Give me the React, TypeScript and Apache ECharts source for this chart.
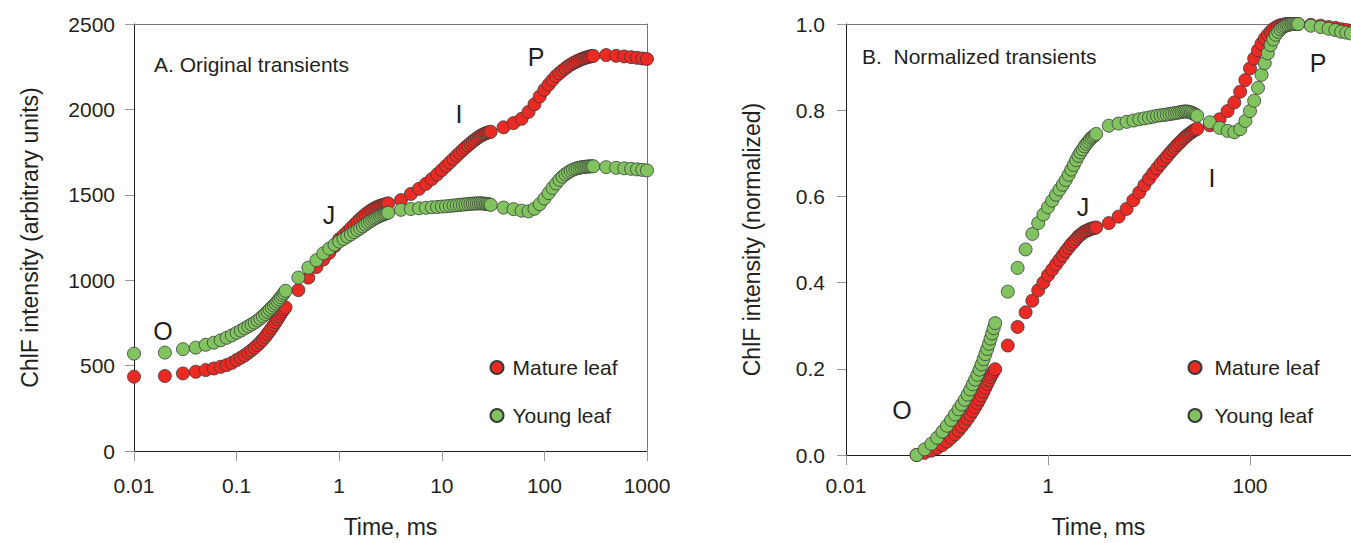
import React, { useEffect, useRef } from "react";
import * as echarts from "echarts";

// Time points (ms) of the recorded transients
const timeMs = [
  0.01, 0.02, 0.03, 0.04, 0.05, 0.06, 0.07, 0.08, 0.09, 0.1,
  0.11, 0.12, 0.13, 0.14, 0.15, 0.16, 0.17, 0.18, 0.19, 0.2,
  0.21, 0.22, 0.23, 0.24, 0.25, 0.26, 0.27, 0.28, 0.29, 0.3,
  0.4, 0.5, 0.6, 0.7, 0.8, 0.9, 1, 1.1, 1.2, 1.3, 1.4, 1.5, 1.6, 1.7,
  1.8, 1.9, 2, 2.1, 2.2, 2.3, 2.4, 2.5, 2.6, 2.7, 2.8, 2.9, 3,
  4, 5, 6, 7, 8, 9, 10, 11, 12, 13, 14, 15, 16, 17, 18, 19, 20,
  21, 22, 23, 24, 25, 26, 27, 28, 29, 30,
  40, 50, 60, 70, 80, 90, 100, 110, 120, 130, 140, 150, 160, 170,
  180, 190, 200, 210, 220, 230, 240, 250, 260, 270, 280, 290, 300,
  400, 500, 600, 700, 800, 900, 1000,
];

// Panel A: original transients (arbitrary units)
const matureRaw = [
  435, 439, 454, 464, 474, 483, 493, 503, 516, 532,
  546, 560, 575, 590, 605, 620, 636, 652, 668, 686,
  703, 720, 737, 754, 771, 788, 804, 818, 830, 841,
  942, 1015, 1077, 1121, 1160, 1199, 1240, 1262, 1283, 1304, 1324, 1342, 1358, 1372,
  1384, 1395, 1405, 1413, 1420, 1426, 1431, 1435, 1438, 1441, 1444, 1447, 1450,
  1469, 1505, 1535, 1564, 1592, 1619, 1645, 1668, 1690, 1710, 1729, 1746, 1762, 1776, 1789, 1801, 1812,
  1822, 1831, 1839, 1846, 1852, 1857, 1861, 1864, 1867, 1869,
  1895, 1920, 1945, 1985, 2030, 2075, 2115, 2145, 2172, 2195, 2212, 2227, 2240, 2252,
  2262, 2270, 2277, 2283, 2289, 2294, 2298, 2302, 2305, 2308, 2310, 2312, 2313,
  2318, 2314, 2310, 2306, 2302, 2298, 2295,
];
const youngRaw = [
  570, 576, 596, 605, 622, 634, 648, 663, 677, 692,
  705, 718, 730, 741, 752, 764, 776, 789, 802, 815,
  828, 840, 852, 864, 876, 888, 900, 913, 925, 938,
  1015, 1073, 1117, 1157, 1185, 1208, 1226, 1241, 1255, 1268, 1281, 1293, 1304, 1315,
  1326, 1336, 1345, 1353, 1360, 1366, 1372, 1377, 1381, 1385, 1389, 1392, 1395,
  1412, 1417, 1421, 1424, 1427, 1429, 1431, 1433, 1435, 1437, 1439, 1441, 1443, 1444, 1446, 1447, 1448,
  1449, 1449, 1450, 1450, 1449, 1448, 1447, 1446, 1444, 1441,
  1425, 1416, 1407, 1403, 1418, 1445, 1478, 1510, 1540, 1566, 1588, 1606, 1620, 1631,
  1640, 1647, 1652, 1656, 1659, 1661, 1663, 1664, 1665, 1666, 1666, 1667, 1667,
  1662, 1658, 1655, 1652, 1649, 1646, 1643,
];

// Panel B: normalized transients, starting at 0.05 ms
const timeNormMs = timeMs.slice(4);
const matureNorm = [
  0.0, 0.005, 0.01, 0.016, 0.023, 0.031, 0.04, 0.048, 0.057, 0.066,
  0.075, 0.084, 0.093, 0.102, 0.111, 0.12, 0.129, 0.138, 0.147, 0.156,
  0.165, 0.173, 0.181, 0.188, 0.194, 0.199,
  0.254, 0.297, 0.331, 0.358, 0.382, 0.4, 0.417, 0.43, 0.442, 0.453, 0.463, 0.473, 0.481, 0.489,
  0.495, 0.501, 0.507, 0.511, 0.515, 0.518, 0.52, 0.522, 0.524, 0.525, 0.526, 0.527, 0.528,
  0.538, 0.553, 0.571, 0.591, 0.609, 0.626, 0.641, 0.654, 0.665, 0.675, 0.684, 0.692, 0.7, 0.707,
  0.713, 0.719, 0.724, 0.729, 0.734, 0.738, 0.742, 0.745, 0.748, 0.751, 0.753, 0.755, 0.757,
  0.765, 0.779, 0.798, 0.818, 0.843, 0.87, 0.897, 0.92, 0.939, 0.954, 0.966, 0.975, 0.982, 0.988,
  0.992, 0.995, 0.997, 0.998, 0.999, 1.0, 1.0, 1.0, 1.0, 1.0, 1.0, 1.0, 1.0,
  0.998, 0.996, 0.993, 0.991, 0.988, 0.986, 0.984,
];
const youngNorm = [
  0.0, 0.013, 0.026, 0.04, 0.054, 0.068, 0.081, 0.094, 0.106, 0.117,
  0.128, 0.14, 0.152, 0.164, 0.175, 0.186, 0.198, 0.21, 0.222, 0.234,
  0.246, 0.258, 0.27, 0.282, 0.294, 0.306,
  0.379, 0.434, 0.477, 0.513, 0.538, 0.558, 0.575, 0.59, 0.604, 0.616, 0.627, 0.638, 0.65, 0.662,
  0.673, 0.684, 0.694, 0.702, 0.709, 0.716, 0.722, 0.727, 0.732, 0.736, 0.739, 0.742, 0.745,
  0.764, 0.769, 0.773, 0.776, 0.779, 0.781, 0.783, 0.785, 0.787, 0.788, 0.789, 0.79, 0.791, 0.792,
  0.793, 0.794, 0.795, 0.796, 0.797, 0.797, 0.797, 0.796, 0.795, 0.793, 0.791, 0.789, 0.787,
  0.772, 0.759, 0.752, 0.749, 0.756, 0.775, 0.798, 0.822, 0.852, 0.882, 0.909, 0.932, 0.951, 0.964,
  0.975, 0.982, 0.988, 0.992, 0.995, 0.997, 0.998, 0.999, 1.0, 1.0, 1.0, 1.0, 1.0,
  0.996, 0.993, 0.989, 0.986, 0.982, 0.98, 0.978,
];

const seriesNames = ["Mature leaf", "Young leaf"];
const panelTitles = ["A. Original transients", "B.  Normalized transients"];
const phaseLabels = ["O", "J", "I", "P"];

const FONT = '"Liberation Sans", Arial, Helvetica, sans-serif';
const INK = "#231f20";
const RED = "#ec2a24";
const GREEN = "#80c35f";
const EDGE = "#3a3a3a";
const FRAME = "#777777";
const TICK = "#999999";

const fmtLog = (v: number) => String(parseFloat(Number(v).toPrecision(6)));

export default function App() {
  const ref = useRef<HTMLDivElement>(null);

  useEffect(() => {
    if (!ref.current) return;
    const chart = echarts.init(ref.current, null, { renderer: "svg" });

    const bottomLogAxis = (grid: number, nameGap: number, margin: number, extra: any = {}) => ({
      type: "log",
      logBase: 10,
      gridIndex: grid,
      min: 0.01,
      max: 1000,
      name: "Time, ms",
      nameLocation: "middle",
      nameGap,
      nameTextStyle: { fontSize: 23, color: INK, fontFamily: FONT },
      axisLine: { show: true, onZero: false, lineStyle: { color: INK, width: 1 } },
      axisTick: { show: true, inside: false, length: 10, lineStyle: { color: TICK, width: 1 } },
      minorTick: { show: false },
      axisLabel: { fontSize: 21, color: INK, fontFamily: FONT, margin, formatter: fmtLog },
      splitLine: { show: false },
      ...extra,
    });
    const frameX = (grid: number) => ({
      type: "log",
      logBase: 10,
      gridIndex: grid,
      position: "top",
      min: 0.01,
      max: 1000,
      axisLine: { show: true, onZero: false, lineStyle: { color: FRAME, width: 1 } },
      axisTick: { show: false },
      axisLabel: { show: false },
      splitLine: { show: false },
    });
    const leftValueAxis = (grid: number, name: string, max: number, interval: number, nameGap: number, margin: number, formatter: any) => ({
      type: "value",
      gridIndex: grid,
      min: 0,
      max,
      interval,
      name,
      nameLocation: "middle",
      nameGap,
      nameRotate: 90,
      nameTextStyle: { fontSize: 23, color: INK, fontFamily: FONT },
      axisLine: { show: true, onZero: false, lineStyle: { color: INK, width: 1 } },
      axisTick: { show: true, inside: false, length: 9, lineStyle: { color: TICK, width: 1 } },
      axisLabel: { fontSize: 21, color: INK, fontFamily: FONT, margin, formatter },
      splitLine: { show: false },
    });

    const pointStyle = (color: string) => ({
      color,
      borderColor: EDGE,
      borderWidth: 0.8,
      opacity: 1,
    });
    const scatter = (name: string, xi: number, yi: number, xs: number[], ys: number[], color: string) => ({
      name,
      type: "scatter",
      xAxisIndex: xi,
      yAxisIndex: yi,
      data: xs.map((t, i) => [t, ys[i]]),
      symbol: "circle",
      symbolSize: 13,
      clip: false,
      itemStyle: pointStyle(color),
      emphasis: { disabled: true },
    });

    const legendBase = (left: number, textPad: number) => ({
      data: seriesNames,
      orient: "vertical",
      left,
      top: 357,
      padding: 0,
      itemWidth: 13,
      itemHeight: 13,
      itemGap: 27,
      icon: "circle",
      selectedMode: false,
      textStyle: { fontSize: 21, color: INK, fontFamily: FONT, padding: [0, 0, 0, textPad] },
    });

    const txt = (text: string, x: number, y: number, size: number, align = "center") => ({
      type: "text",
      x,
      y,
      z: 10,
      style: { text, fontSize: size, fontFamily: FONT, fill: INK, align, verticalAlign: "middle" },
    });

    const option: any = {
      animation: false,
      backgroundColor: "#ffffff",
      textStyle: { fontFamily: FONT },
      grid: [
        { left: 134, top: 24, width: 513, height: 431, containLabel: false },
        { left: 846, top: 24, width: 505, height: 435, containLabel: false },
      ],
      xAxis: [
        bottomLogAxis(0, 64, 24),
        frameX(0),
        bottomLogAxis(1, 60, 20, { interval: 2, axisLabel: { fontSize: 21, color: INK, fontFamily: FONT, margin: 20, formatter: fmtLog, showMaxLabel: false } }),
        frameX(1),
      ],
      yAxis: [
        leftValueAxis(0, "ChlF intensity (arbitrary units)", 2500, 500, 93, 19, (v: number) => String(v)),
        {
          type: "value",
          gridIndex: 0,
          position: "right",
          min: 0,
          max: 2500,
          interval: 500,
          axisLine: { show: true, onZero: false, lineStyle: { color: FRAME, width: 1 } },
          axisTick: { show: false },
          axisLabel: { show: false },
          splitLine: { show: false },
        },
        leftValueAxis(1, "ChlF intensity (normalized)", 1, 0.2, 83, 21, (v: number) => Number(v).toFixed(1)),
      ],
      legend: [legendBase(489.5, 4), legendBase(1187.5, 8)],
      series: [
        scatter(seriesNames[0], 0, 0, timeMs, matureRaw, RED),
        scatter(seriesNames[1], 0, 0, timeMs, youngRaw, GREEN),
        scatter(seriesNames[0], 2, 2, timeNormMs, matureNorm, RED),
        scatter(seriesNames[1], 2, 2, timeNormMs, youngNorm, GREEN),
      ],
      graphic: [
        txt(panelTitles[0], 154, 64.5, 21, "left"),
        txt(panelTitles[1], 862, 56.5, 21, "left"),
        txt(phaseLabels[0], 163, 331, 25),
        txt(phaseLabels[1], 329, 215, 25),
        txt(phaseLabels[2], 459, 114, 25),
        txt(phaseLabels[3], 536, 57, 25),
        txt(phaseLabels[0], 902, 410, 25),
        txt(phaseLabels[1], 1083, 207, 25),
        txt(phaseLabels[2], 1212, 178, 25),
        txt(phaseLabels[3], 1318, 63, 25),
      ],
    };

    chart.setOption(option);
    return () => chart.dispose();
  }, []);

  return (
    <div
      ref={ref}
      style={{ position: "fixed", left: 0, top: 0, width: 1351, height: 543, background: "#fff" }}
    />
  );
}
